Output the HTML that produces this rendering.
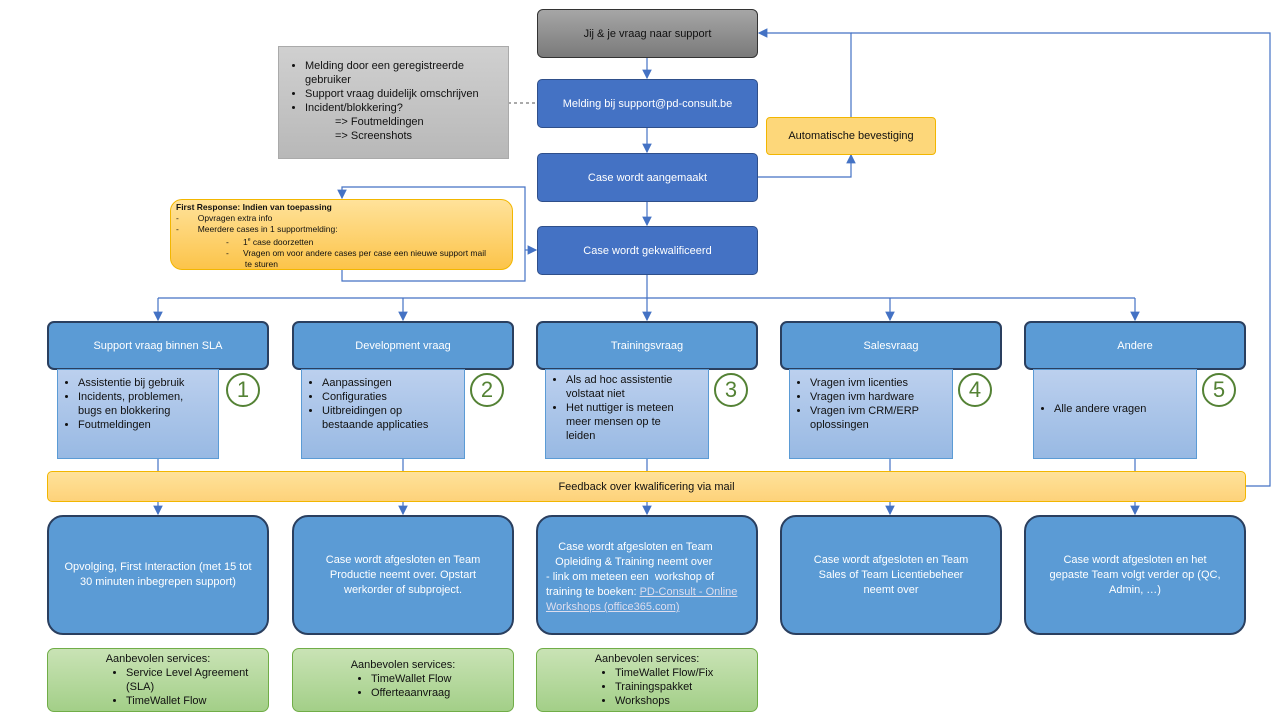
<!DOCTYPE html>
<html><head><meta charset="utf-8"><style>
body{margin:0;width:1280px;height:720px;background:#fff;position:relative;overflow:hidden;font-family:"Liberation Sans",sans-serif;font-size:11px;}
.b{position:absolute;box-sizing:border-box;display:flex;align-items:center;justify-content:center;text-align:center;color:#fff;}
.blue{background:#4472c4;border:1.5px solid #2f4f8a;border-radius:5px;}
.cat{background:#5b9bd5;border:2px solid #2a3f5f;border-radius:7px;}
.res{background:#5b9bd5;border:2px solid #2a3f5f;border-radius:16px;line-height:15px;padding:0 14px;}
.det{position:absolute;box-sizing:border-box;background:linear-gradient(#bcd0ee,#98b9e3);border:1px solid #5b9bd5;color:#111;font-size:11px;line-height:14px;padding-right:16px;}
.det ul{margin:6px 0 0 0;padding-left:20px;}
.circ{position:absolute;width:34px;height:34px;border:2px solid #548235;border-radius:50%;background:#fff;color:#548235;font-size:22px;display:flex;align-items:center;justify-content:center;box-sizing:border-box;}
.grn{position:absolute;box-sizing:border-box;background:linear-gradient(#c9e3b5,#a3cf88);border:1px solid #70ad47;border-radius:7px;color:#111;font-size:11px;line-height:14px;}
.grn ul{margin:0;padding-left:78px;text-align:left;}
ul{list-style:disc;}
</style></head><body>
<svg width="1280" height="720" style="position:absolute;left:0;top:0">
<defs><marker id="a" markerWidth="8" markerHeight="8" refX="7" refY="4" orient="auto"><path d="M0,0 L8,4 L0,8z" fill="#4472c4"/></marker></defs>
<g stroke="#4472c4" stroke-width="1.2" fill="none">
<line x1="647" y1="57" x2="647" y2="78" marker-end="url(#a)"/>
<line x1="647" y1="127" x2="647" y2="152" marker-end="url(#a)"/>
<line x1="647" y1="201" x2="647" y2="225" marker-end="url(#a)"/>
<polyline points="757,177 851,177 851,155" marker-end="url(#a)"/>
<polyline points="851,117 851,33 759,33" marker-end="url(#a)"/>
<polyline points="1245,486 1270,486 1270,33 851,33"/>
<polyline points="342,269 342,281 525,281 525,187 342,187 342,198" marker-end="url(#a)"/>
<line x1="525" y1="250" x2="536" y2="250" marker-end="url(#a)"/>
<line x1="647" y1="274" x2="647" y2="298"/>
<line x1="158" y1="298" x2="1135" y2="298"/>
<line x1="158" y1="298" x2="158" y2="320" marker-end="url(#a)"/>
<line x1="403" y1="298" x2="403" y2="320" marker-end="url(#a)"/>
<line x1="647" y1="298" x2="647" y2="320" marker-end="url(#a)"/>
<line x1="890" y1="298" x2="890" y2="320" marker-end="url(#a)"/>
<line x1="1135" y1="298" x2="1135" y2="320" marker-end="url(#a)"/>
<line x1="158" y1="458" x2="158" y2="514" marker-end="url(#a)"/>
<line x1="403" y1="458" x2="403" y2="514" marker-end="url(#a)"/>
<line x1="647" y1="458" x2="647" y2="514" marker-end="url(#a)"/>
<line x1="890" y1="458" x2="890" y2="514" marker-end="url(#a)"/>
<line x1="1135" y1="458" x2="1135" y2="514" marker-end="url(#a)"/>
</g>
<line x1="508" y1="103" x2="537" y2="103" stroke="#555" stroke-dasharray="3,3"/>
</svg>

<div class="b" style="left:537px;top:9px;width:221px;height:49px;background:linear-gradient(#a6a6a6,#7a7a7a);border:1.5px solid #333;border-radius:6px;color:#111;">Jij &amp; je vraag naar support</div>
<div style="position:absolute;left:278px;top:46px;width:231px;height:113px;box-sizing:border-box;background:linear-gradient(#d0d0d0,#b8b8b8);border:1px solid #aaa;color:#111;font-size:11px;line-height:14px;padding-right:20px;">
<ul style="margin:12px 0 0 0;padding-left:26px;"><li>Melding door een geregistreerde gebruiker</li><li>Support vraag duidelijk omschrijven</li><li>Incident/blokkering?</li></ul>
<div style="padding-left:56px">=&gt; Foutmeldingen<br>=&gt; Screenshots</div></div>
<div class="b blue" style="left:537px;top:79px;width:221px;height:49px;">Melding bij support@pd-consult.be</div>
<div class="b" style="left:766px;top:117px;width:170px;height:38px;background:#fdd77a;border:1px solid #f2b600;border-radius:4px;color:#111;">Automatische bevestiging</div>
<div class="b blue" style="left:537px;top:153px;width:221px;height:49px;">Case wordt aangemaakt</div>
<div style="position:absolute;left:170px;top:199px;width:343px;height:71px;box-sizing:border-box;background:linear-gradient(#ffe29a,#fcc44a);border:1px solid #f2b600;border-radius:12px;color:#111;font-size:8.5px;line-height:11px;padding:2px 5px;">
<b>First Response: Indien van toepassing</b><br>-&nbsp;&nbsp;&nbsp;&nbsp;&nbsp;&nbsp;&nbsp;&nbsp;Opvragen extra info<br>-&nbsp;&nbsp;&nbsp;&nbsp;&nbsp;&nbsp;&nbsp;&nbsp;Meerdere cases in 1 supportmelding:
<div style="padding-left:50px">-&nbsp;&nbsp;&nbsp;&nbsp;&nbsp;&nbsp;1<sup style="font-size:5px">e</sup> case doorzetten<br>-&nbsp;&nbsp;&nbsp;&nbsp;&nbsp;&nbsp;Vragen om voor andere cases per case een nieuwe support mail<br>&nbsp;&nbsp;&nbsp;&nbsp;&nbsp;&nbsp;&nbsp;&nbsp;te sturen</div></div>
<div class="b blue" style="left:537px;top:226px;width:221px;height:49px;">Case wordt gekwalificeerd</div>

<div class="b cat" style="left:47px;top:321px;width:222px;height:49px;">Support vraag binnen SLA</div>
<div class="b cat" style="left:292px;top:321px;width:222px;height:49px;">Development vraag</div>
<div class="b cat" style="left:536px;top:321px;width:222px;height:49px;">Trainingsvraag</div>
<div class="b cat" style="left:780px;top:321px;width:222px;height:49px;">Salesvraag</div>
<div class="b cat" style="left:1024px;top:321px;width:222px;height:49px;">Andere</div>

<div class="det" style="left:57px;top:369px;width:162px;height:90px;"><ul><li>Assistentie bij gebruik</li><li>Incidents, problemen, bugs en blokkering</li><li>Foutmeldingen</li></ul></div>
<div class="det" style="left:301px;top:369px;width:164px;height:90px;"><ul><li>Aanpassingen</li><li>Configuraties</li><li>Uitbreidingen op bestaande applicaties</li></ul></div>
<div class="det" style="left:545px;top:369px;width:164px;height:90px;"><ul style="margin-top:3px"><li>Als ad hoc assistentie volstaat niet</li><li>Het nuttiger is meteen meer mensen op te leiden</li></ul></div>
<div class="det" style="left:789px;top:369px;width:164px;height:90px;"><ul><li>Vragen ivm licenties</li><li>Vragen ivm hardware</li><li>Vragen ivm CRM/ERP oplossingen</li></ul></div>
<div class="det" style="left:1033px;top:369px;width:164px;height:90px;"><ul style="margin-top:32px"><li>Alle andere vragen</li></ul></div>

<div class="circ" style="left:226px;top:373px;">1</div>
<div class="circ" style="left:470px;top:373px;">2</div>
<div class="circ" style="left:714px;top:373px;">3</div>
<div class="circ" style="left:958px;top:373px;">4</div>
<div class="circ" style="left:1202px;top:373px;">5</div>

<div class="b" style="left:47px;top:471px;width:1199px;height:31px;background:linear-gradient(#ffe29a,#fdd27a);border:1px solid #f2b600;border-radius:5px;color:#111;">Feedback over kwalificering via mail</div>

<div class="b res" style="left:47px;top:515px;width:222px;height:120px;">Opvolging, First Interaction (met 15 tot 30 minuten inbegrepen support)</div>
<div class="b res" style="left:292px;top:515px;width:222px;height:120px;padding:0 18px;">Case wordt afgesloten en Team Productie neemt over. Opstart werkorder of subproject.</div>
<div class="b res" style="left:536px;top:515px;width:222px;height:120px;text-align:left;display:block;padding:23px 14px 0 8px;">&nbsp;&nbsp;&nbsp;&nbsp;Case wordt afgesloten en Team<br>&nbsp;&nbsp;&nbsp;Opleiding &amp; Training neemt over<br>- link om meteen een&nbsp; workshop of training te boeken: <u style="color:#dde">PD-Consult - Online Workshops (office365.com)</u></div>
<div class="b res" style="left:780px;top:515px;width:222px;height:120px;padding:0 24px;">Case wordt afgesloten en Team Sales of Team Licentiebeheer neemt over</div>
<div class="b res" style="left:1024px;top:515px;width:222px;height:120px;padding:0 22px;">Case wordt afgesloten en het gepaste Team volgt verder op (QC, Admin, …)</div>

<div class="grn" style="left:47px;top:648px;width:222px;height:64px;padding-top:3px;"><div style="text-align:center">Aanbevolen services:</div><ul style="padding-left:78px;"><li>Service Level Agreement (SLA)</li><li>TimeWallet Flow</li></ul></div>
<div class="grn" style="left:292px;top:648px;width:222px;height:64px;padding-top:9px;"><div style="text-align:center">Aanbevolen services:</div><ul><li>TimeWallet Flow</li><li>Offerteaanvraag</li></ul></div>
<div class="grn" style="left:536px;top:648px;width:222px;height:64px;padding-top:3px;"><div style="text-align:center">Aanbevolen services:</div><ul><li>TimeWallet Flow/Fix</li><li>Trainingspakket</li><li>Workshops</li></ul></div>
</body></html>
